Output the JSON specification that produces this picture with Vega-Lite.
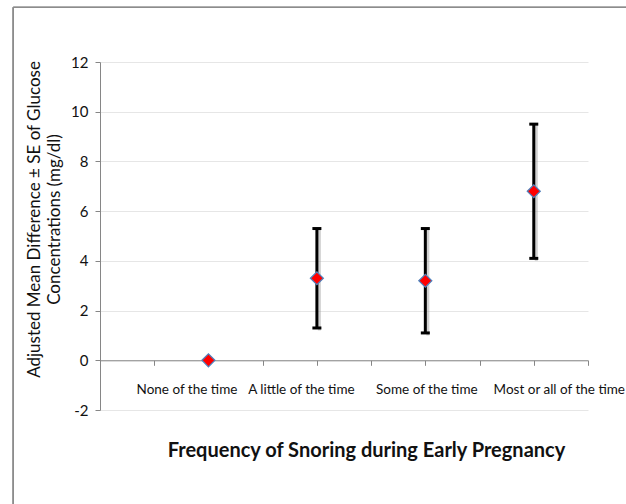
{
  "$schema": "https://vega.github.io/schema/vega-lite/v6.json",
  "autosize": {"type": "none"},
  "width": 488,
  "height": 348,
  "padding": {"left": 100, "top": 62, "right": 38, "bottom": 94},
  "background": "white",
  "config": {
    "view": {"stroke": null},
    "font": "Lato",
    "axis": {"labelFont": "Lato", "titleFont": "Lato", "labelColor": "#1a1a1a", "titleColor": "#1a1a1a"}
  },
  "data": {
    "values": [
      {"category": "None of the time", "x": 1, "mean": 0, "lo": null, "hi": null},
      {"category": "A little of the time", "x": 2, "mean": 3.3, "lo": 1.3, "hi": 5.3},
      {"category": "Some of the time", "x": 3, "mean": 3.2, "lo": 1.1, "hi": 5.3},
      {"category": "Most or all of the time", "x": 4, "mean": 6.8, "lo": 4.1, "hi": 9.5}
    ]
  },
  "encoding": {
    "x": {
      "field": "x",
      "type": "quantitative",
      "scale": {"domain": [0, 4.5], "nice": false, "zero": false},
      "axis": {
        "values": [0, 0.5, 1, 1.5, 2, 2.5, 3, 3.5, 4, 4.5],
        "labelExpr": "datum.value == 1 ? 'None of the time' : datum.value == 2 ? 'A little of the time' : datum.value == 3 ? 'Some of the time' : datum.value == 4 ? 'Most or all of the time' : ''",
        "labelOffset": {
          "condition": [
            {"test": "datum.value == 1", "value": -22},
            {"test": "datum.value == 2", "value": -16},
            {"test": "datum.value == 4", "value": 25}
          ],
          "value": 1
        },
        "grid": false,
        "offset": -49.7,
        "domainColor": "#868686",
        "tickColor": "#868686",
        "tickSize": 5,
        "labelPadding": 17,
        "labelFontSize": 13.5,
        "labelColor": "#111111",
        "labelFlush": false,
        "labelOverlap": false,
        "labelBound": false,
        "title": "Frequency of Snoring during Early Pregnancy",
        "titleFontSize": 20,
        "titleFontWeight": "bold",
        "titleColor": "#111111",
        "titleX": 266,
        "titleY": 90,
        "titleBaseline": "middle",
        "titleAnchor": "middle",
        "titleAlign": "center"
      }
    }
  },
  "layer": [
    {
      "mark": {"type": "rule", "stroke": "#8c8c8c", "strokeWidth": 1.2, "clip": false},
      "encoding": {
        "x": {"datum": -0.8},
        "x2": {"datum": 7},
        "y": {"datum": 14.2}
      }
    },
    {
      "mark": {"type": "rule", "stroke": "#8c8c8c", "strokeWidth": 1.2, "clip": false},
      "encoding": {
        "x": {"datum": -0.8},
        "y": {"datum": 14.2},
        "y2": {"datum": -9}
      }
    },
    {
      "mark": {"type": "rule", "color": "#9a9a9a", "strokeWidth": 3, "xOffset": 2.5, "yOffset": 2.5, "opacity": 0.45},
      "encoding": {
        "y": {"field": "lo", "type": "quantitative"},
        "y2": {"field": "hi"}
      }
    },
    {
      "mark": {"type": "rule", "color": "black", "strokeWidth": 3},
      "encoding": {
        "y": {"field": "lo", "type": "quantitative"},
        "y2": {"field": "hi"}
      }
    },
    {
      "mark": {"type": "tick", "orient": "horizontal", "color": "black", "size": 9, "thickness": 3, "opacity": 1},
      "encoding": {"y": {"field": "lo", "type": "quantitative"}}
    },
    {
      "mark": {"type": "tick", "orient": "horizontal", "color": "black", "size": 9, "thickness": 3, "opacity": 1},
      "encoding": {"y": {"field": "hi", "type": "quantitative"}}
    },
    {
      "mark": {"type": "point", "shape": "diamond", "filled": true, "fill": "#ff0000", "stroke": "#4f81bd", "strokeWidth": 1.2, "size": 170, "opacity": 1},
      "encoding": {
        "y": {
          "field": "mean",
          "type": "quantitative",
          "scale": {"domain": [-2, 12], "nice": false},
          "axis": {
            "values": [-2, 0, 2, 4, 6, 8, 10, 12],
            "labelExpr": "'' + datum.value",
            "grid": true,
            "gridColor": "#e6e6e6",
            "gridWidth": 1,
            "domainColor": "#868686",
            "tickColor": "#868686",
            "tickSize": 5,
            "labelPadding": 7,
            "labelFontSize": 15,
            "labelColor": "#111111",
            "title": ["Adjusted Mean Difference  ± SE of Glucose", "Concentrations (mg/dl)"],
            "titleFontSize": 17,
            "titleFontWeight": "normal",
            "titleColor": "#111111",
            "titleX": -66,
            "titleY": 157,
            "titleAngle": -90,
            "titleAlign": "center",
            "titleBaseline": "middle",
            "titleLineHeight": 20
          }
        }
      }
    }
  ]
}
